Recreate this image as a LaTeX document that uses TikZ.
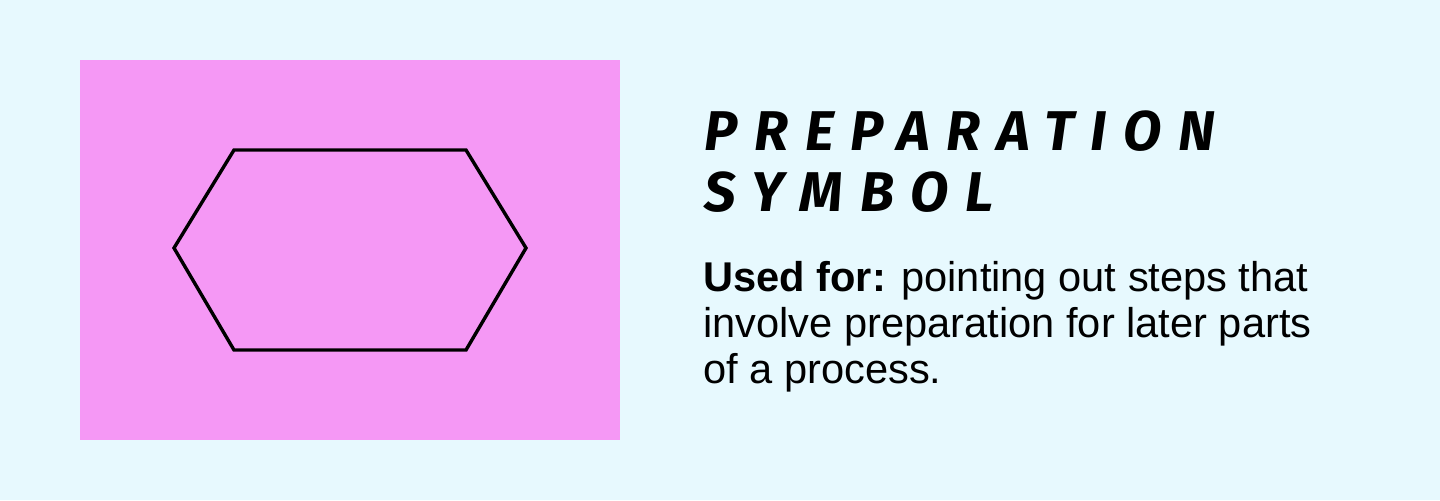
\documentclass[tikz,border=0pt]{standalone}
\usepackage{fontspec}
\setmainfont{Liberation Sans}
\newfontfamily\titlefont[LetterSpace=30]{Fira Sans}
\usetikzlibrary{calc}

\definecolor{bgcyan}{RGB}{231,249,254}
\definecolor{cardpink}{RGB}{245,152,245}

\begin{document}
\begin{tikzpicture}
  [
    x=0.5pt, y=-0.5pt,
    titletext/.style={anchor=base west, inner sep=0pt,
      font=\titlefont\bfseries\itshape\fontsize{28}{30}\selectfont},
    bodytext/.style={anchor=base west, inner sep=0pt,
      font=\fontsize{20.8}{24}\selectfont}
  ]
    % background and card
    \fill[bgcyan] (0,0) rectangle (1440,500);
    \useasboundingbox (0,0) rectangle (1440,500);
    \fill[cardpink] (80,60) rectangle (620,440);

    % the preparation hexagon
    \coordinate (hexw) at (174,248);
    \coordinate (hexnw) at (234,150);
    \coordinate (hexne) at (466,150);
    \coordinate (hexe) at (526,248);
    \coordinate (hexse) at (466,350);
    \coordinate (hexsw) at (234,350);
    \draw[line width=1.7pt, line join=miter]
      (hexw) -- (hexnw) -- (hexne) -- (hexe) -- (hexse) -- (hexsw) -- cycle;

    % title
    \node[titletext] (title1) at (704,150) {PREPARATION};
    \node[titletext] (title2) at (704,211) {SYMBOL};

    % description
    \node[bodytext] (body1) at (703,291) {\textbf{Used for:} pointing out steps that};
    \node[bodytext] (body2) at (703,337) {involve preparation for later parts};
    \node[bodytext] (body3) at (703,383) {of a process.};
  \end{tikzpicture}
\end{document}
